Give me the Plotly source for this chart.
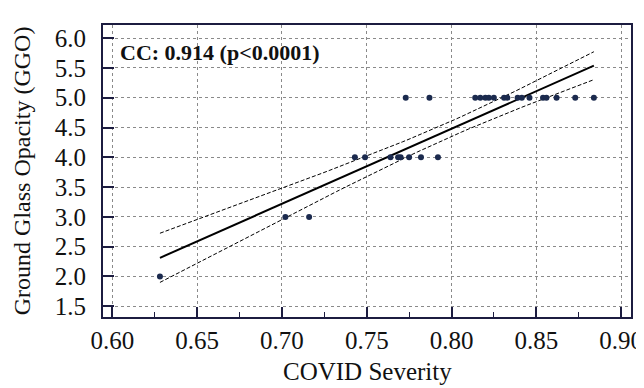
import numpy as np
import plotly.graph_objects as go

# Data
covid_severity = [
    0.628,
    0.702, 0.716,
    0.743, 0.749, 0.764, 0.7685, 0.770, 0.775, 0.782, 0.792,
    0.773, 0.787, 0.814, 0.817, 0.820, 0.822, 0.825, 0.831, 0.833,
    0.839, 0.8415, 0.846, 0.854, 0.856, 0.862, 0.873, 0.884,
]
ggo_score = [
    2,
    3, 3,
    4, 4, 4, 4, 4, 4, 4, 4,
    5, 5, 5, 5, 5, 5, 5, 5, 5,
    5, 5, 5, 5, 5, 5, 5, 5,
]
x_ticks = [0.60, 0.65, 0.70, 0.75, 0.80, 0.85, 0.90]
y_ticks = [1.5, 2.0, 2.5, 3.0, 3.5, 4.0, 4.5, 5.0, 5.5, 6.0]
cc_label = "CC: 0.914 (p<0.0001)"
T_CRIT = 2.056  # t(0.975, df=26)

# OLS fit with 95% confidence band computed from the data
x = np.array(covid_severity)
y = np.array(ggo_score, dtype=float)
n = len(x)
slope, intercept = np.polyfit(x, y, 1)
xm = x.mean()
sxx = ((x - xm) ** 2).sum()
resid = y - (slope * x + intercept)
s = np.sqrt((resid ** 2).sum() / (n - 2))
xf = np.linspace(x.min(), x.max(), 60)
yf = slope * xf + intercept
hw = T_CRIT * s * np.sqrt(1.0 / n + (xf - xm) ** 2 / sxx)

serif = "Liberation Serif, Times New Roman, serif"
frame_col = "#1c1c40"

fig = go.Figure()
fig.add_trace(go.Scatter(x=xf, y=yf + hw, mode="lines",
                         line=dict(color="black", width=1, dash="4px,2px"), hoverinfo="skip"))
fig.add_trace(go.Scatter(x=xf, y=yf - hw, mode="lines",
                         line=dict(color="black", width=1, dash="4px,2px"), hoverinfo="skip"))
fig.add_trace(go.Scatter(x=xf, y=yf, mode="lines",
                         line=dict(color="black", width=2), hoverinfo="skip"))
fig.add_trace(go.Scatter(x=covid_severity, y=ggo_score, mode="markers",
                         marker=dict(color="#1b2a4e", size=6)))

# page body has an 8px default margin, so the figure is sized 8px smaller
fig.update_layout(
    width=636, height=380,
    margin=dict(l=95, r=13, t=17, b=71, autoexpand=False),
    paper_bgcolor="white", plot_bgcolor="white",
    showlegend=False,
    font=dict(family=serif, color="#111111"),
    xaxis=dict(
        range=[0.5944, 0.9059], automargin=False,
        tickvals=x_ticks, ticktext=[f"{v:.2f}" for v in x_ticks],
        tickfont=dict(size=25, family=serif, color="#111111"),
        ticks="inside", ticklen=10, tickwidth=2, tickcolor=frame_col,
        showline=True, linecolor=frame_col, linewidth=2, mirror=True,
        showgrid=True, gridcolor="#8a8a8a", gridwidth=1, griddash="dot",
        zeroline=False,
        minor=dict(ticks="inside", ticklen=5, tickwidth=1, tickcolor=frame_col,
                   dtick=0.025, tick0=0.6, showgrid=False),
    ),
    yaxis=dict(
        range=[1.32, 6.22], automargin=False,
        tickvals=y_ticks, ticktext=[f"{v:.1f}" for v in y_ticks],
        tickfont=dict(size=25, family=serif, color="#111111"),
        ticklabelstandoff=10,
        ticks="inside", ticklen=11, tickwidth=2, tickcolor=frame_col,
        showline=True, linecolor=frame_col, linewidth=2, mirror=True,
        showgrid=True, gridcolor="#8a8a8a", gridwidth=1, griddash="dot",
        zeroline=False,
    ),
    annotations=[
        dict(text="COVID Severity", xref="paper", yref="paper", x=0.5, y=-0.188,
             xanchor="center", yanchor="middle", showarrow=False,
             font=dict(size=25, family=serif, color="#111111")),
        dict(text="Ground Glass Opacity (GGO)", xref="paper", yref="paper", x=-0.153, y=0.5,
             xanchor="center", yanchor="middle", textangle=-90, showarrow=False,
             font=dict(size=24, family=serif, color="#111111")),
        dict(text="<b>" + cc_label + "</b>", xref="paper", yref="paper", x=0.0284, y=0.9075,
             xanchor="left", yanchor="middle", showarrow=False,
             font=dict(size=22, family=serif, color="#111111")),
    ],
)

fig.write_html("out.html")
